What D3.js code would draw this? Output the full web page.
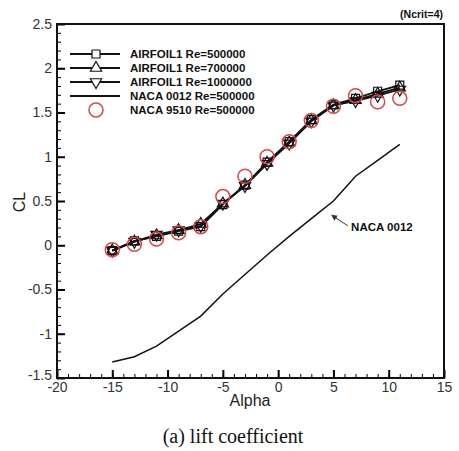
<!DOCTYPE html>
<html>
<head>
<meta charset="utf-8">
<script src="https://cdn.jsdelivr.net/npm/d3@7"></script>
<style>
  body { margin: 0; background: #fff; }
  svg { display: block; }
</style>
</head>
<body>
<svg id="chart" width="459" height="451"></svg>
<script>
// data
const alpha = [-15, -13, -11, -9, -7, -5, -3, -1, 1, 3, 5, 7, 9, 11];
const airfoil500k  = [-0.06, 0.05, 0.10, 0.16, 0.21, 0.46, 0.68, 0.94, 1.17, 1.42, 1.59, 1.66, 1.74, 1.81];
const airfoil700k  = [-0.06, 0.04, 0.11, 0.17, 0.24, 0.47, 0.68, 0.93, 1.16, 1.41, 1.58, 1.64, 1.71, 1.78];
const airfoil1000k = [-0.06, 0.04, 0.12, 0.17, 0.22, 0.47, 0.67, 0.92, 1.15, 1.40, 1.58, 1.63, 1.69, 1.76];
const naca0012     = [-1.32, -1.26, -1.14, -0.97, -0.80, -0.55, -0.33, -0.11, 0.10, 0.30, 0.50, 0.78, 0.96, 1.14];
const naca9510     = [-0.05, 0.01, 0.07, 0.14, 0.21, 0.55, 0.78, 1.00, 1.17, 1.41, 1.57, 1.69, 1.62, 1.66];

const xTicks = [-20, -15, -10, -5, 0, 5, 10, 15];
const yTicks = [-1.5, -1, -0.5, 0, 0.5, 1, 1.5, 2, 2.5];
const legendLabels = ["AIRFOIL1 Re=500000", "AIRFOIL1 Re=700000", "AIRFOIL1 Re=1000000",
                      "NACA 0012 Re=500000", "NACA 9510 Re=500000"];

const svg = d3.select("#chart").style("font-family", "Arial, 'Liberation Sans', sans-serif");
const margin = { top: 24, right: 15, bottom: 73, left: 57 };
const width = 459, height = 451;

const x = d3.scaleLinear().domain([-20, 15]).range([margin.left, width - margin.right]);
const y = d3.scaleLinear().domain([-1.5, 2.5]).range([height - margin.bottom, margin.top]);

const red = "#d9474a";
const fmt = d => String(d);

// axes, ticks inward
const xAxis = svg.append("g").attr("transform", `translate(0,${height - margin.bottom})`);
xAxis.call(d3.axisBottom(x).tickValues(d3.range(-20, 15.01, 1)).tickSize(-4).tickFormat(""));
const xMaj = svg.append("g").attr("transform", `translate(0,${height - margin.bottom})`);
xMaj.call(d3.axisBottom(x).tickValues(xTicks).tickSize(-8).tickPadding(4).tickFormat(fmt));
xMaj.selectAll(".tick line").attr("stroke-width", 2);
xMaj.selectAll(".tick text").attr("font-size", 14).attr("fill", "#333");

const yAxis = svg.append("g").attr("transform", `translate(${margin.left},0)`);
yAxis.call(d3.axisLeft(y).tickValues(d3.range(-15, 25.01, 1).map(v => v / 10)).tickSize(-4).tickFormat(""));
const yMaj = svg.append("g").attr("transform", `translate(${margin.left},0)`);
yMaj.call(d3.axisLeft(y).tickValues(yTicks).tickSize(-8).tickPadding(5).tickFormat(fmt));
yMaj.selectAll(".tick line").attr("stroke-width", 2);
yMaj.selectAll(".tick text").attr("font-size", 14).attr("fill", "#333")
  .attr("dy", d => d === -1.5 ? "0.1em" : "0.32em");
svg.selectAll(".domain").remove();
svg.selectAll(".tick text").style("font-family", "Arial, 'Liberation Sans', sans-serif");

// frame
svg.append("rect")
  .attr("x", margin.left).attr("y", margin.top)
  .attr("width", width - margin.left - margin.right)
  .attr("height", height - margin.top - margin.bottom)
  .attr("fill", "none").attr("stroke", "#111").attr("stroke-width", 2);

// lines
const line = d3.line().x((d, i) => x(alpha[i])).y(d => y(d));
[airfoil500k, airfoil700k, airfoil1000k, naca0012].forEach((s, k) => {
  svg.append("path").datum(s)
    .attr("fill", "none").attr("stroke", "#111")
    .attr("stroke-width", k === 3 ? 1.5 : 1.8)
    .attr("d", line);
});

// markers
const sym = {
  square: d3.symbol().type(d3.symbolSquare).size(64),
  up: d3.symbol().type(d3.symbolTriangle).size(55),
  down: d3.symbol().type(d3.symbolTriangle).size(55)
};
function drawMarkers(series, kind) {
  svg.append("g").selectAll("path").data(series).join("path")
    .attr("transform", (d, i) => `translate(${x(alpha[i])},${y(d)})${kind === "down" ? " rotate(180)" : ""}`)
    .attr("d", sym[kind]())
    .attr("fill", "none").attr("stroke", "#111").attr("stroke-width", 1.2);
}
drawMarkers(airfoil500k, "square");
drawMarkers(airfoil700k, "up");
drawMarkers(airfoil1000k, "down");

svg.append("g").selectAll("circle").data(naca9510).join("circle")
  .attr("cx", (d, i) => x(alpha[i])).attr("cy", d => y(d)).attr("r", 7)
  .attr("fill", "none").attr("stroke", red).attr("stroke-width", 1.5);

// legend
const legend = svg.append("g");
const rowY = [54, 68, 82, 96, 110];
legendLabels.forEach((lab, i) => {
  const ry = rowY[i];
  if (i < 4) {
    legend.append("line").attr("x1", 70).attr("x2", 120).attr("y1", ry).attr("y2", ry)
      .attr("stroke", "#111").attr("stroke-width", 1.8);
  }
  if (i === 0) legend.append("path").attr("transform", `translate(96,${ry})`).attr("d", sym.square())
    .attr("fill", "#fff").attr("stroke", "#111").attr("stroke-width", 1.2);
  if (i === 1) legend.append("path").attr("transform", `translate(96,${ry})`).attr("d", sym.up())
    .attr("fill", "#fff").attr("stroke", "#111").attr("stroke-width", 1.2);
  if (i === 2) legend.append("path").attr("transform", `translate(96,${ry}) rotate(180)`).attr("d", sym.down())
    .attr("fill", "#fff").attr("stroke", "#111").attr("stroke-width", 1.2);
  if (i === 4) legend.append("circle").attr("cx", 96).attr("cy", ry).attr("r", 7)
    .attr("fill", "none").attr("stroke", red).attr("stroke-width", 1.5);
  legend.append("text").attr("x", 130).attr("y", ry + 4)
    .attr("font-size", 11.5).attr("font-weight", "bold").attr("fill", "#111").text(lab);
});

// annotation
svg.append("defs").append("marker").attr("id", "arr")
  .attr("viewBox", "0 0 10 10").attr("refX", 1).attr("refY", 5)
  .attr("markerWidth", 6).attr("markerHeight", 6).attr("orient", "auto-start-reverse")
  .append("path").attr("d", "M0,0 L10,5 L0,10 z").attr("fill", "#333");
svg.append("line")
  .attr("x1", x(6.3)).attr("y1", y(0.22)).attr("x2", x(5.2)).attr("y2", y(0.31))
  .attr("stroke", "#333").attr("stroke-width", 1).attr("marker-end", "url(#arr)");
svg.append("text").attr("x", x(6.6)).attr("y", y(0.16))
  .attr("font-size", 11.5).attr("font-weight", "bold").attr("fill", "#111").text("NACA 0012");

// labels
svg.append("text").attr("x", 443).attr("y", 18).attr("text-anchor", "end")
  .attr("font-size", 10.5).attr("font-weight", "bold").attr("fill", "#111").text("(Ncrit=4)");
svg.append("text").attr("x", 250).attr("y", 406).attr("text-anchor", "middle")
  .attr("font-size", 16).attr("fill", "#222").text("Alpha");
svg.append("text").attr("transform", "translate(25,202) rotate(-90)").attr("text-anchor", "middle")
  .attr("font-size", 16).attr("fill", "#222").text("CL");
svg.append("text").attr("x", 233).attr("y", 443).attr("text-anchor", "middle")
  .style("font-family", "'Liberation Serif', 'Times New Roman', serif")
  .attr("font-size", 20).attr("fill", "#111").text("(a) lift coefficient");
</script>
</body>
</html>
